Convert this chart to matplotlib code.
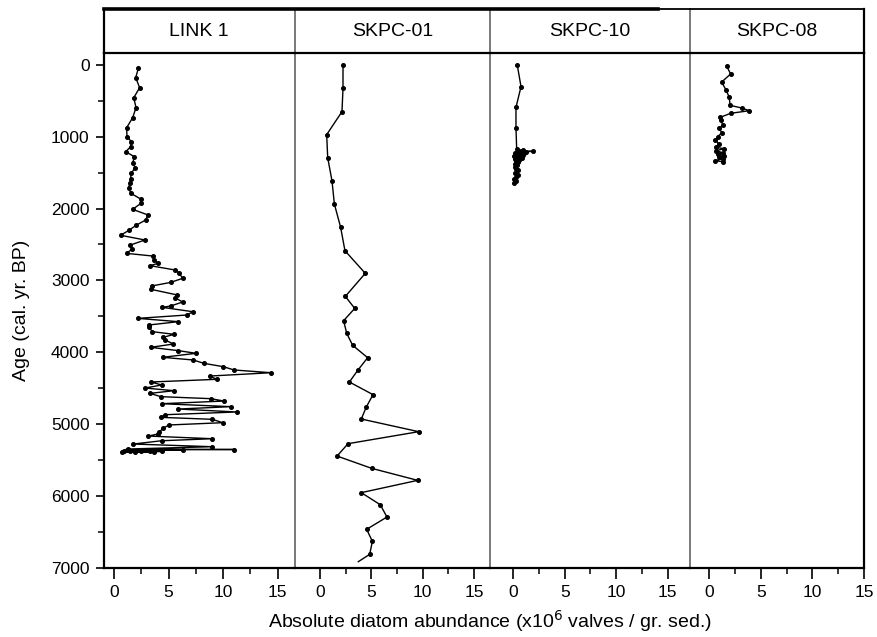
import matplotlib
matplotlib.use('Agg')
import matplotlib.pyplot as plt
from matplotlib.lines import Line2D
from matplotlib.ticker import MultipleLocator, FixedLocator

plt.rcParams['font.family'] = ['Liberation Sans', 'DejaVu Sans']

# ---------------- data ----------------
panel_titles = ["LINK 1", "SKPC-01", "SKPC-10", "SKPC-08"]

link1_age = [50, 180, 320, 459, 598, 737, 876, 1001, 1070, 1140, 1210, 1279, 1372, 1432,
             1511, 1585, 1650, 1720, 1789, 1868, 1928, 2012, 2090, 2160, 2234, 2299, 2373,
             2438, 2508, 2568, 2624, 2661, 2716, 2763, 2795, 2855, 2902, 2971, 3027, 3078,
             3124, 3203, 3240, 3301, 3356, 3375, 3435, 3481, 3528, 3574, 3620, 3653, 3713,
             3750, 3792, 3829, 3885, 3931, 3977, 4014, 4070, 4107, 4153, 4200, 4246, 4284,
             4330, 4376, 4413, 4455, 4497, 4534, 4571, 4617, 4645, 4678, 4715, 4756, 4789,
             4830, 4868, 4905, 4932, 4979, 5011, 5058, 5104, 5137, 5165, 5202, 5230, 5276,
             5313, 5345, 5352, 5358, 5362, 5366, 5370, 5373, 5376, 5379, 5382, 5385, 5388]
link1_abund = [2.23, 1.99, 2.35, 1.81, 2.02, 1.71, 1.16, 1.19, 1.59, 1.53, 1.07, 1.86, 1.71, 1.96,
               1.56, 1.53, 1.44, 1.34, 1.56, 2.44, 2.47, 1.71, 3.12, 2.90, 2.02, 1.41, 0.61,
               2.84, 1.50, 1.62, 1.16, 3.54, 3.67, 4.03, 3.30, 5.59, 5.99, 6.29, 5.22, 3.45,
               3.39, 5.81, 5.59, 6.29, 5.19, 4.43, 7.21, 6.72, 2.17, 5.90, 3.21, 3.24, 3.51,
               5.50, 4.52, 4.70, 5.44, 3.36, 5.90, 7.52, 4.46, 7.27, 8.22, 10.02, 11.00, 14.39,
               8.80, 9.41, 3.39, 4.37, 2.84, 5.50, 3.30, 4.29, 8.89, 10.08, 4.37, 10.72, 5.90,
               11.24, 4.70, 4.31, 9.01, 9.96, 5.01, 4.52, 4.16, 4.00, 3.15, 9.01, 4.37, 1.77,
               9.00, 1.31, 11.03, 1.20, 6.29, 1.45, 3.30, 2.50, 0.90, 4.37, 1.90, 3.70, 0.75]

skpc01_age = [4, 329, 653, 973, 1293, 1618, 1938, 2262, 2587, 2902, 3222, 3390, 3560, 3736,
              3903, 4075, 4246, 4413, 4589, 4761, 4928, 5104, 5271, 5443, 5614, 5781, 5952,
              6120, 6291, 6462, 6629, 6810, 6912]
skpc01_abund = [2.24, 2.24, 2.14, 0.65, 0.75, 1.17, 1.40, 2.01, 2.43, 4.41, 2.47, 3.38, 2.30,
                2.60, 3.18, 4.64, 3.70, 2.86, 5.16, 4.51, 4.02, 9.61, 2.73, 1.66, 5.03, 9.51,
                4.02, 5.87, 6.52, 4.54, 5.10, 4.84, 3.73]

skpc10_age = [9, 306, 593, 885, 1177, 1190, 1200, 1205, 1210, 1215, 1222, 1230, 1238, 1245,
              1255, 1265, 1275, 1285, 1295, 1310, 1325, 1340, 1360, 1380, 1400, 1420, 1445,
              1470, 1500, 1530, 1560, 1590, 1620, 1645]
skpc10_abund = [0.39, 0.75, 0.26, 0.26, 0.33, 0.9, 0.5, 1.94, 1.2, 0.6, 1.0, 0.2, 0.8, 0.4,
                0.9, 0.1, 0.6, 0.3, 0.8, 0.2, 0.6, 0.3, 0.5, 0.2, 0.4, 0.2, 0.3,
                0.5, 0.2, 0.5, 0.3, 0.1, 0.3, 0.1]

skpc08_age = [18, 129, 241, 352, 454, 565, 602, 640, 676, 732, 769, 839, 885, 946, 1001,
              1048, 1103, 1150, 1168, 1196, 1224, 1242, 1270, 1289, 1307, 1335, 1349]
skpc08_abund = [1.68, 2.07, 1.20, 1.62, 1.94, 2.01, 3.14, 3.88, 2.07, 1.07, 1.14, 1.30, 0.98,
                1.21, 0.82, 0.60, 0.91, 0.65, 1.46, 0.65, 1.30, 0.82, 1.46, 0.98, 1.30, 0.55, 1.30]

ages = [link1_age, skpc01_age, skpc10_age, skpc08_age]
abunds = [link1_abund, skpc01_abund, skpc10_abund, skpc08_abund]
x_ticks = [0, 5, 10, 15]
y_ticks = [0, 1000, 2000, 3000, 4000, 5000, 6000, 7000]

# ---------------- layout (pixels) ----------------
W, H = 877, 637
fig = plt.figure(figsize=(W / 100, H / 100), dpi=100)

plot_top, plot_bot = 53.3, 568.0
head_top = 9.3
y0_px, px_per_1000 = 64.7, 71.9
# left px, right px, px of x=0, px per unit
geom = [(103.5, 295.0, 114.0, 10.91),
        (295.0, 490.0, 320.0, 10.27),
        (490.0, 689.5, 513.3, 10.29),
        (689.5, 864.0, 709.3, 10.31)]

ytop = -(y0_px - plot_top) / px_per_1000 * 1000
ybot = 7000

grey = '#555555'
for i, (title, a, v, (x0, x1, z, s)) in enumerate(zip(panel_titles, ages, abunds, geom)):
    ax = fig.add_axes([x0 / W, (H - plot_bot) / H, (x1 - x0) / W, (plot_bot - plot_top) / H])
    n_mark = len(a) - 1 if i == 1 else len(a)
    ax.plot(v, a, color='black', lw=1.0, marker='o', ms=2.6, mfc='black', mec='black',
            markevery=list(range(n_mark)), clip_on=False)
    ax.set_xlim((x0 - z) / s, (x1 - z) / s)
    ax.set_ylim(ybot, ytop)
    ax.xaxis.set_major_locator(FixedLocator(x_ticks))
    ax.xaxis.set_minor_locator(FixedLocator([2.5, 7.5, 12.5]))
    ax.tick_params(axis='x', which='major', direction='out', length=8, width=1.2,
                   labelsize=12.5, pad=4)
    ax.tick_params(axis='x', which='minor', direction='out', length=4.5, width=1.1)
    ax.spines['top'].set_visible(False)
    ax.spines['bottom'].set_linewidth(1.6)
    if i == 0:
        ax.spines['left'].set_linewidth(1.6)
        ax.set_yticks(y_ticks)
        ax.yaxis.set_minor_locator(MultipleLocator(500))
        ax.tick_params(axis='y', which='major', direction='out', length=6, width=1.2,
                       labelsize=12.5, pad=4)
        ax.tick_params(axis='y', which='minor', direction='out', length=4.5, width=1.1)
    else:
        ax.spines['left'].set_color(grey)
        ax.spines['left'].set_linewidth(1.1)
        ax.tick_params(axis='y', which='both', left=False, labelleft=False)
    if i == 3:
        ax.spines['right'].set_linewidth(1.6)
    else:
        ax.spines['right'].set_visible(False)
    ax.set_facecolor('none')

    hx = fig.add_axes([x0 / W, (H - plot_top) / H, (x1 - x0) / W, (plot_top - head_top) / H])
    hx.set_xticks([])
    hx.set_yticks([])
    hx.set_facecolor('none')
    hx.spines['bottom'].set_linewidth(1.6)
    hx.spines['top'].set_linewidth(1.3)
    if i == 0:
        hx.spines['left'].set_linewidth(1.6)
    else:
        hx.spines['left'].set_color(grey)
        hx.spines['left'].set_linewidth(1.1)
    if i == 3:
        hx.spines['right'].set_linewidth(1.6)
    else:
        hx.spines['right'].set_visible(False)
    hx.text(0.5, 0.5, title, ha='center', va='center', fontsize=14, transform=hx.transAxes)

# thick top rule over the first part of the header
fig.add_artist(Line2D([103.5 / W, 658 / W], [(H - head_top) / H] * 2, color='black', lw=2.6))

fig.text(490 / W, (H - 621) / H, r'Absolute diatom abundance (x10$^{6}$ valves / gr. sed.)',
         ha='center', va='center', fontsize=14)
fig.text(22 / W, (H - 310) / H, 'Age (cal. yr. BP)', rotation=90, ha='center', va='center',
         fontsize=14)

fig.savefig('out.png', dpi=100)
